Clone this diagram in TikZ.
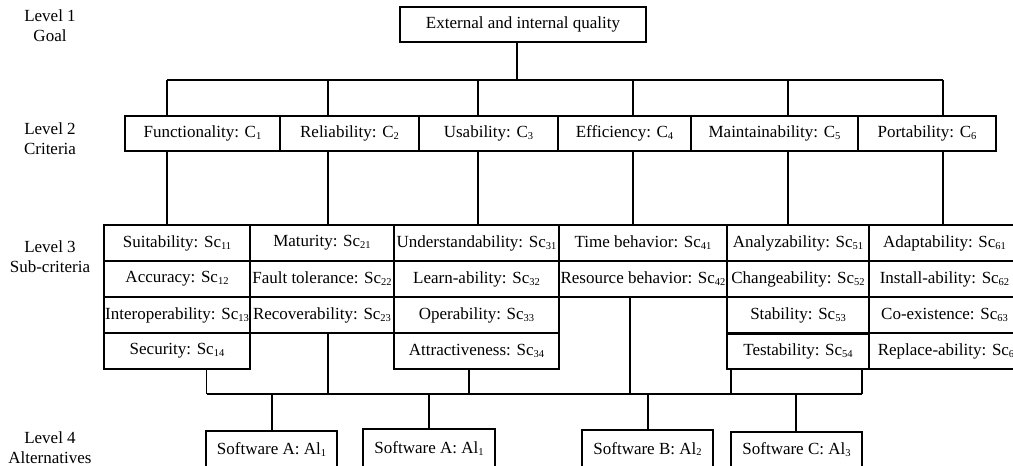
\documentclass[tikz,border=0pt]{standalone}
\usepackage{fontspec}
\setmainfont{Liberation Serif}
\newcommand\sbs[1]{\raisebox{-0.25ex}{\fontsize{10.5}{10}\selectfont #1}}
\newcommand\fs{\fontsize{17}{20}\selectfont}
\newcommand\bx[6]{\node[box, minimum width={(#3-#2)*1pt}, minimum height={(#5-#4)*1pt}] (#1) at ({(#2+#3)/2},{(#4+#5)/2}) {#6};}
\tikzset{
  box/.style={draw, rectangle, line width=1.2pt, inner sep=0pt, outer sep=0pt, font=\fs, text=black},
  lvl/.style={align=center, font=\fs, inner sep=0pt},
  conn/.style={line width=1.2pt}
}
\begin{document}
\begin{tikzpicture}[x=1pt,y=-1pt]
\useasboundingbox (0,0) rectangle (1013,466);
\clip (0,0) rectangle (1013,466);
\fill[white] (0,0) rectangle (1013,466);
% level labels
\node[lvl] (L1) at (50,26) {Level 1\\Goal};
\node[lvl] (L2) at (50,139) {Level 2\\Criteria};
\node[lvl] (L3) at (50,257) {Level 3\\Sub-criteria};
\node[lvl] (L4) at (50,448) {Level 4\\Alternatives};
% goal
\bx{goal}{400}{646}{7}{42}{External and internal quality}
% criteria
\bx{C1}{125}{280}{116}{151}{Functionality: C\sbs{1}}
\bx{C2}{280}{419}{116}{151}{Reliability: C\sbs{2}}
\bx{C3}{419}{558}{116}{151}{Usability: C\sbs{3}}
\bx{C4}{558}{691}{116}{151}{Efficiency: C\sbs{4}}
\bx{C5}{691}{858}{116}{151}{Maintainability: C\sbs{5}}
\bx{C6}{858}{996}{116}{151}{Portability: C\sbs{6}}
% sub-criteria
\bx{S11}{104}{250}{225}{261}{Suitability: Sc\sbs{11}}
\bx{S12}{104}{250}{261}{297}{Accuracy: Sc\sbs{12}}
\bx{S13}{104}{250}{297}{333}{Interoperability: Sc\sbs{13}}
\bx{S14}{104}{250}{333}{369}{Security: Sc\sbs{14}}
\bx{S21}{250}{394}{225}{261}{Maturity: Sc\sbs{21}}
\bx{S22}{250}{394}{261}{297}{Fault tolerance: Sc\sbs{22}}
\bx{S23}{250}{394}{297}{333}{Recoverability: Sc\sbs{23}}
\bx{S31}{394}{559}{225}{261}{Understandability: Sc\sbs{31}}
\bx{S32}{394}{559}{261}{297}{Learn-ability: Sc\sbs{32}}
\bx{S33}{394}{559}{297}{333}{Operability: Sc\sbs{33}}
\bx{S34}{394}{559}{333}{369}{Attractiveness: Sc\sbs{34}}
\bx{S41}{559}{727}{225}{261}{Time behavior: Sc\sbs{41}}
\bx{S42}{559}{727}{261}{297}{Resource behavior: Sc\sbs{42}}
\bx{S51}{727}{869}{225}{261}{Analyzability: Sc\sbs{51}}
\bx{S52}{727}{869}{261}{297}{Changeability: Sc\sbs{52}}
\bx{S53}{727}{869}{297}{333}{Stability: Sc\sbs{53}}
\bx{S54}{727}{869}{334}{369}{Testability: Sc\sbs{54}}
\bx{S61}{869}{1020}{225}{261}{Adaptability: Sc\sbs{61}}
\bx{S62}{869}{1020}{261}{297}{Install-ability: Sc\sbs{62}}
\bx{S63}{869}{1020}{297}{333}{Co-existence: Sc\sbs{63}}
\bx{S64}{869}{1020}{333}{369}{\hspace*{3pt}Replace-ability: Sc\sbs{6}}
% alternatives
\bx{A1}{206}{337}{431}{468}{Software A: Al\sbs{1}}
\bx{A2}{363}{495}{429}{468}{Software A: Al\sbs{1}}
\bx{A3}{582}{713}{430}{468}{Software B: Al\sbs{2}}
\bx{A4}{731}{862}{432}{468}{Software C: Al\sbs{3}}
% top bus
\coordinate (b0) at (517,80);
\coordinate (t1) at (167,80);
\coordinate (t2) at (328,80);
\coordinate (t3) at (478,80);
\coordinate (t4) at (633,80);
\coordinate (t5) at (788,80);
\coordinate (t6) at (943,80);
\draw[conn] (goal.south -| b0) -- (b0);
\draw[conn] (t1) -- (t6);
\draw[conn] (t1) -- (t1 |- C1.north);
\draw[conn] (t2) -- (t2 |- C2.north);
\draw[conn] (t3) -- (t3 |- C3.north);
\draw[conn] (t4) -- (t4 |- C4.north);
\draw[conn] (t5) -- (t5 |- C5.north);
\draw[conn] (t6) -- (t6 |- C6.north);
% criteria to sub-criteria
\draw[conn] (C1.south -| t1) -- (t1 |- S11.north);
\draw[conn] (C2.south -| t2) -- (t2 |- S21.north);
\draw[conn] (C3.south -| t3) -- (t3 |- S31.north);
\draw[conn] (C4.south -| t4) -- (t4 |- S41.north);
\draw[conn] (C5.south -| t5) -- (t5 |- S51.north);
\draw[conn] (C6.south -| t6) -- (t6 |- S61.north);
% bottom bus
\coordinate (u1) at (206.5,394);
\coordinate (u2) at (328,394);
\coordinate (u3) at (469,394);
\coordinate (u4) at (630,394);
\coordinate (u5) at (731,394);
\coordinate (u6) at (862,394);
\draw[conn] (u1) -- (u6);
\draw[conn] (S14.south -| u1) -- (u1);
\draw[conn] (S23.south -| u2) -- (u2);
\draw[conn] (S34.south -| u3) -- (u3);
\draw[conn] (S42.south -| u4) -- (u4);
\draw[conn] (S54.south -| u5) -- (u5);
\draw[conn] (S54.south -| u6) -- (u6);
% to alternatives
\coordinate (a1) at (272,394);
\coordinate (a2) at (429,394);
\coordinate (a3) at (648,394);
\coordinate (a4) at (796,394);
\draw[conn] (a1) -- (a1 |- A1.north);
\draw[conn] (a2) -- (a2 |- A2.north);
\draw[conn] (a3) -- (a3 |- A3.north);
\draw[conn] (a4) -- (a4 |- A4.north);
\end{tikzpicture}
\end{document}
